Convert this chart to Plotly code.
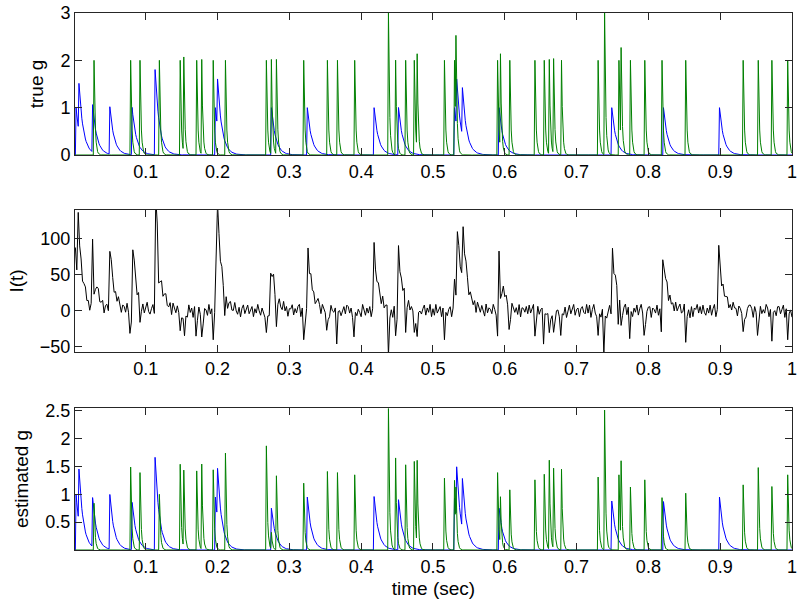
import numpy as np
import plotly.graph_objects as go

# ---------------- data ----------------
# excitatory (green) event times (s), true and estimated amplitudes
exc_times = [0.028, 0.079, 0.092, 0.119, 0.148, 0.153, 0.171, 0.178, 0.194, 0.211,
             0.268, 0.275, 0.282, 0.320, 0.353, 0.367, 0.391, 0.438, 0.448, 0.462,
             0.474, 0.478, 0.516, 0.530, 0.532, 0.590, 0.594, 0.607, 0.642, 0.655,
             0.662, 0.668, 0.679, 0.730, 0.739, 0.759, 0.762, 0.775, 0.795, 0.819,
             0.852, 0.932, 0.953, 0.972, 0.994]
exc_amp_true = [2, 2, 2, 2, 2, 2, 2, 2, 2, 2,
                2, 2, 2, 2, 2, 2, 2, 3, 2, 2,
                2, 2, 2, 2, 2, 2, 2, 2, 2, 2,
                2, 2, 2, 2, 3, 2, 2, 2, 2, 2,
                2, 2, 2, 2, 2]
exc_amp_est = [0.84, 1.49, 1.39, 1.00, 1.54, 1.38, 1.42, 1.53, 1.44, 1.74,
               1.87, 0.30, 1.33, 1.20, 1.41, 1.39, 1.35, 2.54, 1.65, 1.53,
               1.59, 1.50, 1.29, 1.25, 0.80, 1.39, 0.86, 1.08, 1.26, 1.36,
               1.60, 1.44, 1.45, 1.31, 2.51, 1.35, 1.42, 1.13, 1.26, 0.94,
               1.02, 1.17, 1.48, 1.14, 1.35]

# inhibitory (blue) event times (s), true and estimated amplitudes
inh_times = [0.003, 0.007, 0.026, 0.050, 0.081, 0.113, 0.197, 0.200, 0.275, 0.325,
             0.418, 0.452, 0.530, 0.533, 0.541, 0.592, 0.749, 0.821, 0.899]
inh_amp_true = [1, 1, 1, 1, 1, 1.8, 1, 1, 1, 1,
                1, 1, 1, 1, 1, 1, 1, 1, 1]
inh_amp_est = [1.00, 0.94, 0.88, 0.98, 0.85, 1.66, 0.95, 0.89, 0.75, 0.95,
               0.96, 0.90, 0.93, 0.93, 0.89, 0.75, 0.88, 0.87, 0.95]

# fluctuating part of the measured current I(t), one value per 2 ms sample
I_noise = [
    3, -4, 8, -2, 6, -6, 4, 9, -3, 2,
    -8, 4, 10, -3, -6, 3, 8, -4, 0, 6,
    -9, 3, 6, -2, -4, 9, 2, -6, 4, -3,
    8, -2, -8, 4, 3, -4, 9, -3, 6, -6,
    2, 10, -4, -9, 3, 6, -2, 4, -8, 3,
    9, -3, -6, 2, 8, -4, 3, 12, -2, -6,
    4, -8, 3, 9, -3, -2, 6, -9, 8, 2,
    -4, 6, -3, 10, 0, -8, 4, 3, -6, 9,
    -2, 4, -9, 6, 3, -3, 8, -4, 2, -8,
    6, 2, -6, 9, -4, 3, -2, 8, -9, 4,
    3, -6, 8, -3, 4, 10, -8, 2, 6, -4,
    -3, 9, -2, -6, 4, -9, 3, 8, -4, 2,
    8, -4, 2, 6, -8, 3, -3, 9, 0, -6,
    4, -2, -9, 8, 3, -4, 6, -3, 10, -8,
    -6, 3, 8, -2, -4, 9, -3, 4, -9, 2,
    2, 8, -6, 3, -3, 6, 9, -8, 4, -2,
    -4, 6, 3, -9, 8, -2, 4, -6, 2, 9,
    3, -8, 6, 2, -4, 10, -3, -6, 8, 0,
    -2, 4, -8, 9, 3, -6, 2, 6, -4, 8,
    6, -3, 4, -9, 2, 8, -4, 3, -2, -8,
    9, 2, -6, 4, -3, 6, -8, 3, 10, -4,
    -3, 8, -2, -6, 9, -4, 2, 4, -8, 3,
    4, -9, 6, 3, -2, 8, -6, 2, -3, 9,
    -8, 3, 9, -4, 2, -3, 6, -9, 4, 8,
    2, -4, 3, 8, -6, 4, -2, 9, -8, 3,
    -6, 9, -3, 2, 6, -8, 4, -2, 8, -4,
    3, 6, -8, 4, -3, 9, -6, 2, -4, 6,
    -2, -6, 8, 3, -9, 4, 2, -3, 6, -8,
    8, 3, -4, 6, -2, -8, 9, -3, 4, 2,
    -4, 9, 2, -6, 3, 8, -3, -9, 6, -2,
    6, -3, 4, -8, 9, 2, -4, 3, -6, 8,
    -9, 4, 3, -2, 6, -4, 8, -3, 2, 9,
    3, -6, 9, -4, 2, 4, -8, 6, -2, -3,
    8, -2, -4, 9, -6, 3, 2, -8, 4, 6,
    -3, 6, -9, 2, 8, -4, 3, 9, -6, 2,
    4, -8, 3, 6, -2, -4, 9, -3, 8, -9,
    2, 9, -3, -8, 4, 6, -6, 3, -2, 8,
    -6, 3, 8, -4, 2, -9, 6, 4, -3, 9,
    9, -4, 2, 6, -8, 3, -2, 8, -6, 4,
    -2, 8, -6, 3, 9, -3, 4, -9, 2, 6,
    6, -9, 4, 2, -3, 8, -6, 3, 9, -4,
    -4, 2, 9, -8, 6, -2, 3, -6, 8, -3,
    3, 8, -4, -2, 9, -6, 2, 4, -9, 6,
    -8, 4, 2, 9, -3, 6, -4, 8, -2, -6,
    4, -3, 8, -6, 3, 9, -8, 2, 6, -2,
    -9, 6, -2, 4, 8, -4, 3, -3, 9, 2,
    2, -8, 6, 3, -4, 9, -2, -6, 4, 8,
    8, 3, -9, 6, -2, 4, -6, 9, -3, 2,
    -3, 9, 4, -8, 2, -4, 8, 3, -6, 6,
    6, -4, 2, 8, -9, 3, -2, 6, 4, -8,
]

x_tick_vals = [0.1, 0.2, 0.3, 0.4, 0.5, 0.6, 0.7, 0.8, 0.9, 1.0]
x_tick_text = ["0.1", "0.2", "0.3", "0.4", "0.5", "0.6", "0.7", "0.8", "0.9", "1"]

# ---------------- traces ----------------
t_g = np.round(np.arange(0.002, 1.0005, 0.001), 4)
t_i = np.round(np.arange(0.002, 1.0005, 0.002), 4)
tau_exc = 0.0015
tau_inh = 0.006


def conductance(t, times, amps, tau):
    g = np.zeros_like(t)
    dt = t[1] - t[0]
    for ts, a in zip(times, amps):
        k = max(int(round((ts - t[0]) / dt)), 0)
        g[k:] += a * np.exp(-(t[k:] - t[k]) / tau)
    return g


ge_true = conductance(t_g, exc_times, exc_amp_true, tau_exc)
gi_true = conductance(t_g, inh_times, inh_amp_true, tau_inh)
ge_est = conductance(t_g, exc_times, exc_amp_est, tau_exc)
gi_est = conductance(t_g, inh_times, inh_amp_est, tau_inh)

I_t = (85 * conductance(t_i, inh_times, inh_amp_true, tau_inh)
       - 19 * conductance(t_i, exc_times, exc_amp_true, tau_exc)
       + np.array(I_noise, dtype=float))

BLUE = "#0000ff"
GREEN = "#008000"
FONT = "Liberation Sans, Arial, Helvetica, sans-serif"

fig = go.Figure()
fig.add_trace(go.Scatter(x=t_g, y=gi_true, mode="lines", line=dict(color=BLUE, width=1),
                         xaxis="x", yaxis="y", showlegend=False))
fig.add_trace(go.Scatter(x=t_g, y=ge_true, mode="lines", line=dict(color=GREEN, width=1),
                         xaxis="x", yaxis="y", showlegend=False))
fig.add_trace(go.Scatter(x=t_i, y=I_t, mode="lines", line=dict(color="#000000", width=1),
                         xaxis="x2", yaxis="y2", showlegend=False))
fig.add_trace(go.Scatter(x=t_g, y=gi_est, mode="lines", line=dict(color=BLUE, width=1),
                         xaxis="x3", yaxis="y3", showlegend=False))
fig.add_trace(go.Scatter(x=t_g, y=ge_est, mode="lines", line=dict(color=GREEN, width=1),
                         xaxis="x3", yaxis="y3", showlegend=False))

H = 537.0
dom1 = [(550 - 155) / H, 1.0]
dom2 = [(550 - 352) / H, (550 - 210) / H]
dom3 = [0.0, (550 - 408) / H]

common_axis = dict(showline=True, linecolor="#262626", linewidth=1, mirror="ticks",
                   ticks="inside", ticklen=7, tickwidth=1, tickcolor="#262626",
                   showgrid=False, zeroline=False, automargin=False,
                   tickfont=dict(family=FONT, size=18, color="#000000"))

xcommon = dict(common_axis, range=[0.0015, 1.0], tickvals=x_tick_vals, ticktext=x_tick_text)

fig.update_layout(
    width=800, height=610,
    margin=dict(l=75, r=8, t=13, b=60),
    paper_bgcolor="white", plot_bgcolor="white",
    font=dict(family=FONT, size=18, color="#000000"),
    xaxis=dict(xcommon, anchor="y"),
    xaxis2=dict(xcommon, anchor="y2"),
    xaxis3=dict(xcommon, anchor="y3",
                title=dict(text="time (sec)", font=dict(family=FONT, size=19), standoff=6)),
    yaxis=dict(common_axis, domain=dom1, anchor="x", range=[0, 3], tickvals=[0, 1, 2, 3],
               title=dict(text="true g", font=dict(family=FONT, size=19), standoff=11)),
    yaxis2=dict(common_axis, domain=dom2, anchor="x2", range=[-57, 140],
                tickvals=[-50, 0, 50, 100], ticktext=["\u221250", "0", "50", "100"],
                title=dict(text="I(t)", font=dict(family=FONT, size=19), standoff=11)),
    yaxis3=dict(common_axis, domain=dom3, anchor="x3", range=[0, 2.55],
                tickvals=[0.5, 1, 1.5, 2, 2.5], ticktext=["0.5", "1", "1.5", "2", "2.5"],
                title=dict(text="estimated g", font=dict(family=FONT, size=19), standoff=11)),
)

fig.write_html("out.html", post_script="document.body.style.margin='0px';",
               config={"displayModeBar": False})
